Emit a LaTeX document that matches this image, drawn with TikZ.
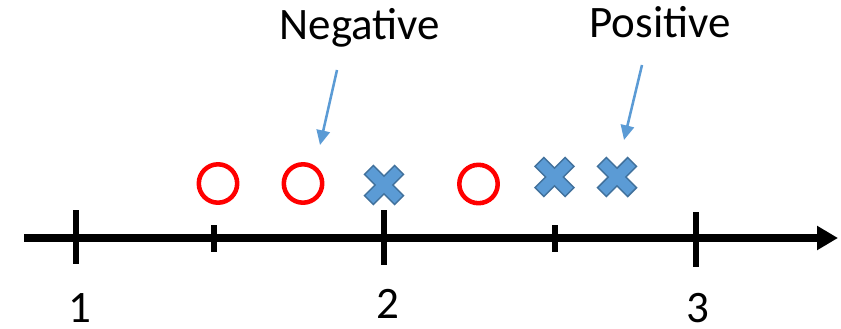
\documentclass[tikz,border=0pt]{standalone}
\usepackage{fontspec}
\setmainfont{Carlito}
\usetikzlibrary{arrows.meta}
\definecolor{negred}{HTML}{FF0000}
\definecolor{posfill}{HTML}{5B9BD5}
\definecolor{posedge}{HTML}{41719C}
\definecolor{callout}{HTML}{5B9BD5}
\begin{document}
\begin{tikzpicture}[x=0.75pt,y=-0.75pt,
  axisline/.style={line width=5.6pt,-{Triangle[length=15.75pt,width=17.25pt]}},
  majortick/.style={line width=4.9pt},
  minortick/.style={line width=4.6pt},
  negmark/.style={draw=negred,line width=3.4pt},
  posmark/.style={fill=posfill,draw=posedge,line width=1.1pt,line join=miter},
  callarrow/.style={draw=callout,line width=1.9pt,-{Triangle[length=11pt,width=10pt]}},
  lbl/.style={font=\fontsize{33.75pt}{40pt}\selectfont,inner sep=0pt,anchor=base}]
\useasboundingbox (0,0) rectangle (841,328);
% multiplication-sign marker
\newcommand{\xmark}[2]{%
  \path[posmark] (#1,#2) ++(8.8,0) -- ++(10.7,-10.7) -- ++(-8.8,-8.8)
    -- ++(-10.7,10.7) -- ++(-10.7,-10.7) -- ++(-8.8,8.8) -- ++(10.7,10.7)
    -- ++(-10.7,10.7) -- ++(8.8,8.8) -- ++(10.7,-10.7) -- ++(10.7,10.7)
    -- ++(8.8,-8.8) -- cycle;}
% number line
\coordinate (axstart) at (24,238);
\coordinate (axend) at (838,238);
\draw[axisline] (axstart) -- (axend);
\draw[majortick] (76,210) -- (76,264);
\draw[minortick] (214,225) -- (214,252);
\draw[majortick] (384,210) -- (384,265);
\draw[minortick] (555,225) -- (555,252);
\draw[majortick] (696,212) -- (696,267);
\node[lbl] (one) at (80,322) {1};
\node[lbl] (two) at (388,318) {2};
\node[lbl] (three) at (698,322) {3};
% negative samples
\draw[negmark] (218,183.5) circle[radius=19.2];
\draw[negmark] (303,183.5) circle[radius=19.2];
\draw[negmark] (478.5,184) circle[radius=19.2];
% positive samples
\xmark{384}{185}
\xmark{554.5}{177}
\xmark{617}{177}
% labels with pointers
\node[lbl] (neg) at (360,40) {Negative};
\node[lbl] (pos) at (660,38) {Positive};
\coordinate (negtail) at (337,70);
\coordinate (neghead) at (320,145);
\coordinate (postail) at (642,65);
\coordinate (poshead) at (624,140);
\draw[callarrow] (negtail) -- (neghead);
\draw[callarrow] (postail) -- (poshead);
\end{tikzpicture}
\end{document}
